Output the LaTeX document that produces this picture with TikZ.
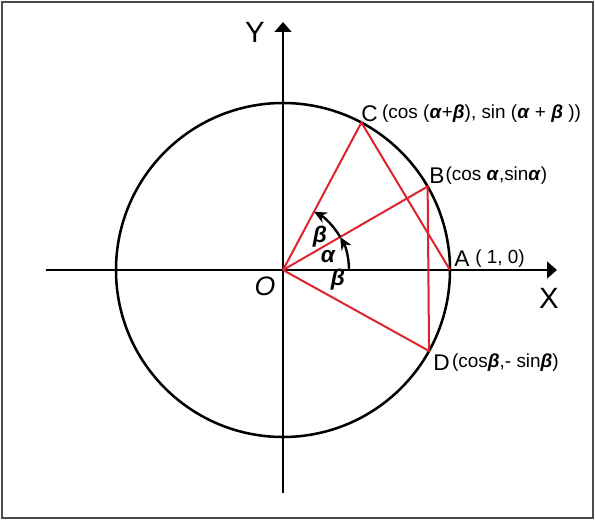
\documentclass[tikz,border=0pt]{standalone}
\usepackage{fontspec}
\setmainfont{Liberation Sans}
\usetikzlibrary{arrows.meta}
\definecolor{chordred}{RGB}{222,35,45}
\definecolor{framegray}{RGB}{75,75,75}
\newcommand{\ga}{\textbf{\textit{α}}}
\newcommand{\gb}{\textbf{\textit{β}}}

\begin{document}
\begin{tikzpicture}[x=0.75pt,y=0.75pt,
    axis/.style={line width=1.9pt,-{Triangle[length=7.5pt,width=12.5pt]}},
    chord/.style={line width=1.5pt,chordred},
    ptname/.style={font=\fontsize{17}{19}\selectfont,inner sep=0pt},
    axname/.style={font=\fontsize{22}{24}\selectfont,inner sep=0pt},
    coordtxt/.style={font=\fontsize{14.2}{16}\selectfont,inner sep=0pt},
    angtxt/.style={font=\fontsize{17}{18}\selectfont\bfseries\itshape,inner sep=0pt},
    angarc/.style={line width=1.8pt,-{Stealth[length=9.5pt,width=8.5pt]}}]
                    \useasboundingbox (-283,270) rectangle (312,-251);
                    \draw[line width=2.2pt,framegray] (-281,268) rectangle (310,-248);

                    % points on the unit circle
                    \coordinate (O) at (0,0);
                    \coordinate (A) at (0:167);
                    \coordinate (B) at (30:167);
                    \coordinate (C) at (62:167);
                    \coordinate (D) at (-29:167);
                    \coordinate (xs) at (-237,0);
                    \coordinate (xe) at (274,0);
                    \coordinate (ys) at (0,-223);
                    \coordinate (ye) at (0,248);

                    \draw[axis] (xs) -- (xe);
                    \draw[axis] (ys) -- (ye);
                    \draw[line width=1.9pt] (O) circle (167);

                    \draw[chord] (O) -- (C) -- (A);
                    \draw[chord] (O) -- (B) -- (D) -- (O);

                    \draw[angarc] (0:66) arc (0:30:66);
                    \draw[angarc] (30:66) arc (30:62:66);

                    \node[axname] (lX) at (266,-28) {X};
                    \node[axname] (lY) at (-28,238) {Y};
                    \node[axname,font=\fontsize{20}{22}\selectfont\itshape] (lO) at (-18,-16) {O};

                    \node[angtxt] (lb1) at (37,33) {β};
                    \node[angtxt] (la) at (45,13) {α};
                    \node[angtxt] (lb2) at (55,-10) {β};

                    \node[ptname,anchor=west] (lA) at (171,11) {A};
                    \node[coordtxt,anchor=west] (tA) at ([xshift=4pt]lA.east) {( 1, 0)};
                    \node[ptname,anchor=west] (lB) at (146,94) {B};
                    \node[coordtxt,anchor=west] (tB) at ([xshift=0.5pt]lB.east) {(cos \ga,sin\ga)};
                    \node[ptname,anchor=west] (lC) at (78,156) {C};
                    \node[coordtxt,anchor=west] (tC) at ([xshift=3pt]lC.east) {(cos (\ga+\gb), sin (\ga{} + \gb{} ))};
                    \node[ptname,anchor=west] (lD) at (150,-93) {D};
                    \node[coordtxt,anchor=west] (tD) at ([xshift=1.5pt]lD.east) {(cos\gb,- sin\gb)};
                \end{tikzpicture}
\end{document}
